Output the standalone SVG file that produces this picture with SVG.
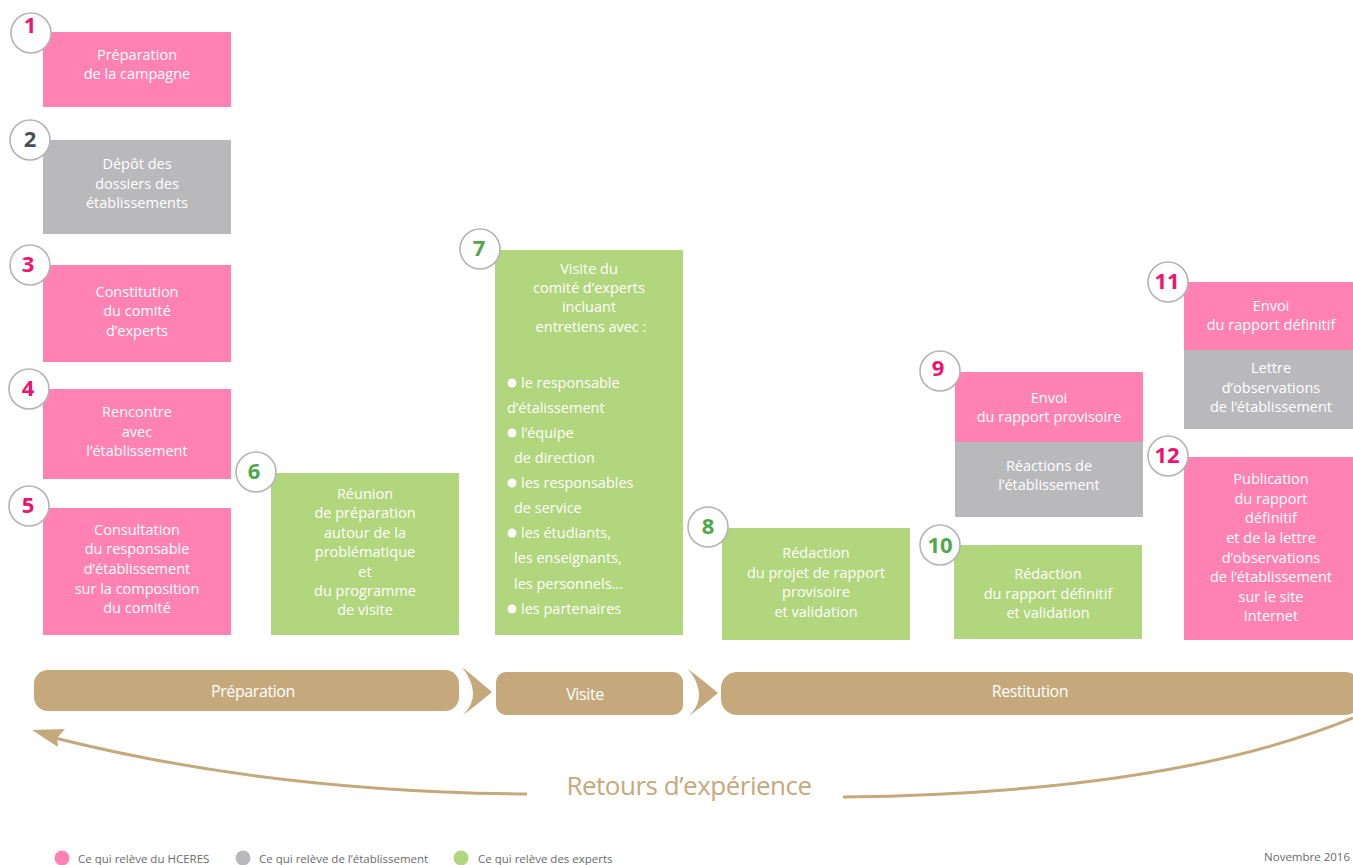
<svg xmlns="http://www.w3.org/2000/svg" width="1353" height="865" viewBox="0 0 1353 865">
<style>
.pk{fill:#FF82B2}.gy{fill:#B9B9BB}.gn{fill:#B1D67D}
.t{font-family:"Open Sans","Liberation Sans",sans-serif;font-size:14.5px;fill:#fff;text-anchor:middle}
.tl{font-family:"Open Sans","Liberation Sans",sans-serif;font-size:14.5px;fill:#fff}
.c{fill:#fff;stroke:#B4B4B4;stroke-width:1.6}
.n{font-family:"Open Sans","Liberation Sans",sans-serif;font-size:22px;font-weight:700;text-anchor:middle}
.np{fill:#F0126E}.ng{fill:#4A4F57}.nv{fill:#4FA84A}
.bar{fill:#C5A97C}
.bt{font-family:"Open Sans","Liberation Sans",sans-serif;font-size:16px;fill:#fff;text-anchor:middle;letter-spacing:-0.4px}
.lg{font-family:"Open Sans","Liberation Sans",sans-serif;font-size:11.5px;fill:#6a6a6a}
</style>
<g id="node1">
<rect class="pk" x="43" y="32" width="188" height="75"/>
<text class="t" x="137" y="60">Préparation</text>
<text class="t" x="137" y="79">de la campagne</text>
<circle class="c" cx="31" cy="33" r="20"/><text class="n np" x="30" y="33">1</text>
</g>
<g id="node2">
<rect class="gy" x="43" y="140" width="188" height="94"/>
<text class="t" x="137" y="169">Dépôt des</text>
<text class="t" x="137" y="189">dossiers des</text>
<text class="t" x="137" y="208">établissements</text>
<circle class="c" cx="30" cy="140" r="20"/><text class="n ng" x="30" y="147">2</text>
</g>
<g id="node3">
<rect class="pk" x="43" y="265" width="188" height="97"/>
<text class="t" x="137" y="297">Constitution</text>
<text class="t" x="137" y="316">du comité</text>
<text class="t" x="137" y="336">d’experts</text>
<circle class="c" cx="30" cy="265" r="20"/><text class="n np" x="28" y="272">3</text>
</g>
<g id="node4">
<rect class="pk" x="43" y="389" width="188" height="90"/>
<text class="t" x="137" y="417">Rencontre</text>
<text class="t" x="137" y="437">avec</text>
<text class="t" x="137" y="456">l’établissement</text>
<circle class="c" cx="29" cy="389" r="20"/><text class="n np" x="28" y="396">4</text>
</g>
<g id="node5">
<rect class="pk" x="43" y="508" width="188" height="127"/>
<text class="t" x="137" y="535">Consultation</text>
<text class="t" x="137" y="554">du responsable</text>
<text class="t" x="137" y="574">d’établissement</text>
<text class="t" x="137" y="594">sur la composition</text>
<text class="t" x="137" y="613">du comité</text>
<circle class="c" cx="29" cy="506" r="20"/><text class="n np" x="28" y="513">5</text>
</g>
<g id="node6">
<rect class="gn" x="271" y="473" width="188" height="162"/>
<text class="t" x="365" y="499">Réunion</text>
<text class="t" x="365" y="518">de préparation</text>
<text class="t" x="365" y="538">autour de la</text>
<text class="t" x="365" y="557">problématique</text>
<text class="t" x="365" y="577">et</text>
<text class="t" x="365" y="596">du programme</text>
<text class="t" x="365" y="615">de visite</text>
<circle class="c" cx="256" cy="472" r="20"/><text class="n nv" x="254" y="479">6</text>
</g>
<g id="node7">
<rect class="gn" x="495" y="250" width="188" height="385"/>
<text class="t" x="589" y="274">Visite du</text>
<text class="t" x="589" y="293">comité d’experts</text>
<text class="t" x="589" y="312">incluant</text>
<text class="t" x="591" y="332">entretiens avec :</text>
<g fill="#fff"><circle cx="512" cy="383" r="4.5"/><circle cx="512" cy="433" r="4.5"/><circle cx="512" cy="483" r="4.5"/><circle cx="512" cy="533" r="4.5"/><circle cx="512" cy="609" r="4.5"/></g>
<text class="tl" x="521" y="388">le responsable</text>
<text class="tl" x="507" y="413">d’étalissement</text>
<text class="tl" x="521" y="438">l’équipe</text>
<text class="tl" x="514" y="463">de direction</text>
<text class="tl" x="521" y="488">les responsables</text>
<text class="tl" x="514" y="513">de service</text>
<text class="tl" x="521" y="538">les étudiants,</text>
<text class="tl" x="514" y="563">les enseignants,</text>
<text class="tl" x="514" y="589">les personnels...</text>
<text class="tl" x="521" y="614">les partenaires</text>
<circle class="c" cx="480" cy="249" r="20"/><text class="n nv" x="479" y="256">7</text>
</g>
<g id="node8">
<rect class="gn" x="722" y="528" width="188" height="112"/>
<text class="t" x="816" y="558">Rédaction</text>
<text class="t" x="816" y="578">du projet de rapport</text>
<text class="t" x="816" y="597">provisoire</text>
<text class="t" x="816" y="617">et validation</text>
<circle class="c" cx="708" cy="527" r="20"/><text class="n nv" x="708" y="534">8</text>
</g>
<g id="node9">
<rect class="pk" x="955" y="372" width="188" height="70"/>
<rect class="gy" x="955" y="442" width="188" height="75"/>
<text class="t" x="1049" y="403">Envoi</text>
<text class="t" x="1049" y="422">du rapport provisoire</text>
<text class="t" x="1049" y="471">Réactions de</text>
<text class="t" x="1049" y="490">l’établissement</text>
<circle class="c" cx="940" cy="371" r="20"/><text class="n np" x="938" y="376">9</text>
</g>
<g id="node10">
<rect class="gn" x="954" y="545" width="188" height="94"/>
<text class="t" x="1048" y="579">Rédaction</text>
<text class="t" x="1048" y="599">du rapport définitif</text>
<text class="t" x="1048" y="618">et validation</text>
<circle class="c" cx="940" cy="545" r="20"/><text class="n nv" x="940" y="553">10</text>
</g>
<g id="node11">
<rect class="pk" x="1184" y="282" width="169" height="68"/>
<rect class="gy" x="1184" y="350" width="169" height="79"/>
<text class="t" x="1271" y="311">Envoi</text>
<text class="t" x="1271" y="330">du rapport définitif</text>
<text class="t" x="1271" y="373">Lettre</text>
<text class="t" x="1271" y="393">d’observations</text>
<text class="t" x="1271" y="412">de l’établissement</text>
<circle class="c" cx="1168" cy="282" r="20"/><text class="n np" x="1167" y="289">11</text>
</g>
<g id="node12">
<rect class="pk" x="1184" y="457" width="169" height="183"/>
<text class="t" x="1271" y="484">Publication</text>
<text class="t" x="1271" y="504">du rapport</text>
<text class="t" x="1271" y="523">définitif</text>
<text class="t" x="1271" y="543">et de la lettre</text>
<text class="t" x="1271" y="563">d’observations</text>
<text class="t" x="1271" y="582">de l’établissement</text>
<text class="t" x="1271" y="602">sur le site</text>
<text class="t" x="1271" y="621">Internet</text>
<circle class="c" cx="1168" cy="456" r="20"/><text class="n np" x="1167" y="463">12</text>
</g>
<g id="phases">
<rect class="bar" x="34" y="670" width="425" height="41" rx="14"/>
<text class="bt" x="253" y="697">Préparation</text>
<path class="bar" d="M462,667 Q478,680 492,692 Q478,704 463,715 Q474,704 473,692 Q472,680 462,667 Z"/>
<rect class="bar" x="496" y="672" width="187" height="43" rx="10"/>
<text class="bt" x="585" y="700">Visite</text>
<path class="bar" d="M688,669 Q704,681 718,693 Q704,705 689,716 Q700,705 699,693 Q698,681 688,669 Z"/>
<rect class="bar" x="721" y="672" width="640" height="43" rx="16"/>
<text class="bt" x="1030" y="697">Restitution</text>
</g>
<g id="connectors">
<path d="M1353,718 Q1170,793 843,797" fill="none" stroke="#C5A97C" stroke-width="3"/>
<path d="M527,794 Q270,792 55,738" fill="none" stroke="#C5A97C" stroke-width="3"/>
<path d="M32,730 L65,729 L57,738 L58,747 Z" fill="#C5A97C"/>
</g>
<text x="689" y="795" font-family="Open Sans, Liberation Sans, sans-serif" font-size="26" fill="#C5A97C" text-anchor="middle" letter-spacing="-0.5">Retours d’expérience</text>
<g id="legend">
<circle cx="62" cy="858" r="7.5" fill="#FF82B2"/>
<text class="lg" x="78" y="863">Ce qui relève du HCERES</text>
<circle cx="243" cy="858" r="7.5" fill="#B9B9BB"/>
<text class="lg" x="259" y="863">Ce qui relève de l’établissement</text>
<circle cx="461" cy="858" r="7.5" fill="#B1D67D"/>
<text class="lg" x="478" y="863">Ce qui relève des experts</text>
<text class="lg" x="1350" y="861" text-anchor="end" font-size="13">Novembre 2016</text>
</g>
</svg>
